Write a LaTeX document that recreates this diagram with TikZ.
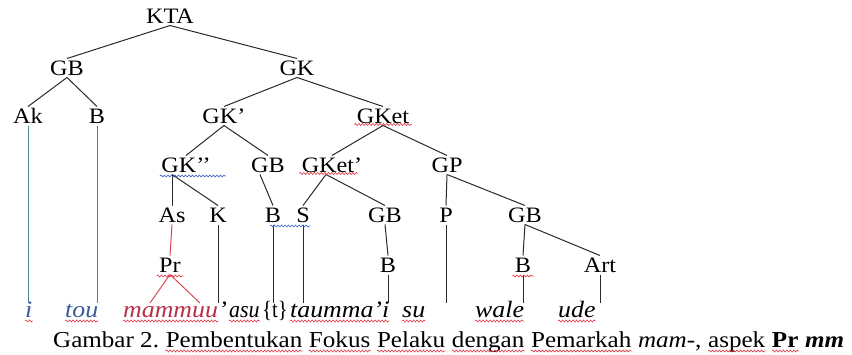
\documentclass[tikz,border=0pt]{standalone}
\usepackage{fontspec}
\setmainfont{Liberation Serif}[FakeStretch=1.1]
\newfontfamily\itwide{Liberation Serif Italic}[FakeStretch=1.1]
\newfontfamily\bfwide{Liberation Serif Bold}[FakeStretch=1.1]
\newfontfamily\bfitwide{Liberation Serif Bold Italic}[FakeStretch=1.1]
\usetikzlibrary{decorations.pathmorphing}
\definecolor{lineblack}{HTML}{2A2A2A}
\definecolor{tealline}{HTML}{4E8594}
\definecolor{redline}{HTML}{D8485A}
\definecolor{wavered}{HTML}{E03040}
\definecolor{waveblue}{HTML}{3A60C8}
\definecolor{wordblue}{HTML}{3A5A9A}
\definecolor{wordred}{HTML}{B83048}
\begin{document}
\begin{tikzpicture}[x=1pt,y=-1pt,
  lbl/.style={anchor=base,inner sep=0pt,outer sep=2.5pt,text height=14pt,text depth=0pt,
    font=\fontsize{22}{27}\selectfont},
  word/.style={anchor=base west,inner sep=0pt,font=\fontsize{23.5}{28}\selectfont\itwide},
  capw/.style={anchor=base west,inner sep=0pt,font=\fontsize{22.8}{27}\selectfont},
  edge/.style={draw=lineblack,line width=1pt},
  tedge/.style={draw=tealline,line width=1pt},
  redge/.style={draw=redline,line width=1pt},
  rwave/.style={draw=wavered,line width=0.6pt,decorate,decoration={snake,amplitude=1pt,segment length=3.5pt}},
  bwave/.style={draw=waveblue,line width=0.6pt,decorate,decoration={snake,amplitude=1pt,segment length=3.5pt}}]
\useasboundingbox (0,0) rectangle (852,354);
% tree labels
\node[lbl] (KTA) at (170,23) {KTA};
\node[lbl] (GB1) at (67,75) {GB};
\node[lbl] (GK1) at (297,75) {GK};
\node[lbl] (Ak) at (28,123) {Ak};
\node[lbl] (B1) at (97,123) {B};
\node[lbl] (GKa) at (224,123) {GK’};
\node[lbl] (GKet) at (383,123) {GKet};
\node[lbl] (GKb) at (186,172) {GK’’};
\node[lbl] (GB2) at (268,172) {GB};
\node[lbl] (GKetb) at (332,172) {GKet’};
\node[lbl] (GP) at (447,172) {GP};
\node[lbl] (As) at (172,222) {As};
\node[lbl] (K) at (218,222) {K};
\node[lbl] (B2) at (273,222) {B};
\node[lbl] (S) at (303,222) {S};
\node[lbl] (GB3) at (385,222) {GB};
\node[lbl] (P) at (446,222) {P};
\node[lbl] (GB4) at (525,222) {GB};
\node[lbl] (Pr) at (170,272) {Pr};
\node[lbl] (B3) at (388,272) {B};
\node[lbl] (B4) at (523,272) {B};
\node[lbl] (Art) at (600,272) {Art};
% words row
\coordinate (wt) at (0,303);
\node[word] (w1) at (25,317) {\textcolor{wordblue}{i}};
\node[word] (w2) at (65,317) {\textcolor{wordblue}{tou}};
\node[word] (w3) at (123,317) {\textcolor{wordred}{mammuu}};
\node[word] (w3b) at (w3.base east) {’};
\node[word] (w4) at (229,317) {\scalebox{0.85}[1]{asu}};
\node[word] (w5) at (262,317) {\normalfont\fontsize{23.5}{28}\selectfont\scalebox{0.8}[1]{\{t\}}};
\node[word] (w6) at (290,317) {taumma’i};
\node[word] (w7) at (402,317) {su};
\node[word] (w8) at (475,317) {wale};
\node[word] (w9) at (558,317) {ude};
\coordinate (m1) at (150,303);
\coordinate (m2) at (200,303);
% caption
\node[capw] (c1) at (53,347) {Gambar 2.};
\node[capw] (c2) at ([xshift=6.3pt]c1.base east) {Pembentukan};
\node[capw] (c3) at ([xshift=6.3pt]c2.base east) {Fokus};
\node[capw] (c4) at ([xshift=6.3pt]c3.base east) {Pelaku};
\node[capw] (c5) at ([xshift=6.3pt]c4.base east) {dengan};
\node[capw] (c6) at ([xshift=6.3pt]c5.base east) {Pemarkah};
\node[capw] (c7) at ([xshift=6.3pt]c6.base east) {{\itwide mam-},};
\node[capw] (c8) at ([xshift=6.3pt]c7.base east) {aspek};
\node[capw] (c9) at ([xshift=6.3pt]c8.base east) {\bfwide Pr};
\node[capw] (c10) at ([xshift=6.3pt]c9.base east) {\bfitwide mm};
% edges
\draw[edge] (KTA.south) -- (GB1.north);
\draw[edge] (KTA.south) -- (GK1.north);
\draw[edge] (GB1.south) -- (Ak.north);
\draw[edge] (GB1.south) -- (B1.north);
\draw[edge] (GK1.south) -- (GKa.north);
\draw[edge] (GK1.south) -- (GKet.north);
\draw[edge] (GKa.south) -- (GKb.north);
\draw[edge] (GKa.south) -- (GB2.north);
\draw[edge] (GKet.south) -- (GKetb.north);
\draw[edge] (GKet.south) -- (GP.north);
\draw[edge] (As |- GKb.south) -- (As.north);
\draw[edge] (As |- GKb.south) -- (K.north);
\draw[edge] ([xshift=-8pt]GB2.south) -- (B2.north);
\draw[edge] ([xshift=-6pt]GKetb.south) -- (S.north);
\draw[edge] ([xshift=-6pt]GKetb.south) -- (GB3.north);
\draw[edge] (GP.south) -- (P.north);
\draw[edge] (GP.south) -- (GB4.north);
\draw[edge] (GB3.south) -- (B3.north);
\draw[edge] (GB4.south) -- (B4.north);
\draw[edge] (GB4.south) -- (Art.north);
\draw[redge] (As.south) -- (Pr.north);
\draw[redge] (Pr.south) -- (m1);
\draw[redge] (Pr.south) -- (m2);
\draw[tedge] (Ak.south) -- (Ak.south |- wt);
\draw[tedge] (B1.south) -- (B1.south |- wt);
\draw[edge] (K.south) -- (K.south |- wt);
\draw[edge] (B2.south) -- (B2.south |- wt);
\draw[edge] (S.south) -- (S.south |- wt);
\draw[edge] (P.south) -- (P.south |- wt);
\draw[edge] (B3.south) -- (B3.south |- wt);
\draw[edge] (B4.south) -- (B4.south |- wt);
\draw[edge] (Art.south) -- (Art.south |- wt);
% red wavy underlines
\foreach \n in {w1,w2,w3,w4,w6,w7,w8,w9,c2,c3,c4,c5,c6,c8,c9,Pr,B4}
  \draw[rwave] ([yshift=-4pt]\n.base west) -- ([yshift=-4pt]\n.base east);
\draw[rwave] ([yshift=-1.5pt]GKet.base west) -- ([yshift=-1.5pt]GKet.base east);
\draw[rwave] ([yshift=-1.5pt]GKetb.base west) -- ([xshift=-7pt,yshift=-1.5pt]GKetb.base east);
% blue wavy underlines
\draw[bwave] (GKb.base west) ++(1,4) -- ++(66,0);
\draw[bwave] (B2.base) ++(-3,4) -- ++(40,0);
\end{tikzpicture}
\end{document}
